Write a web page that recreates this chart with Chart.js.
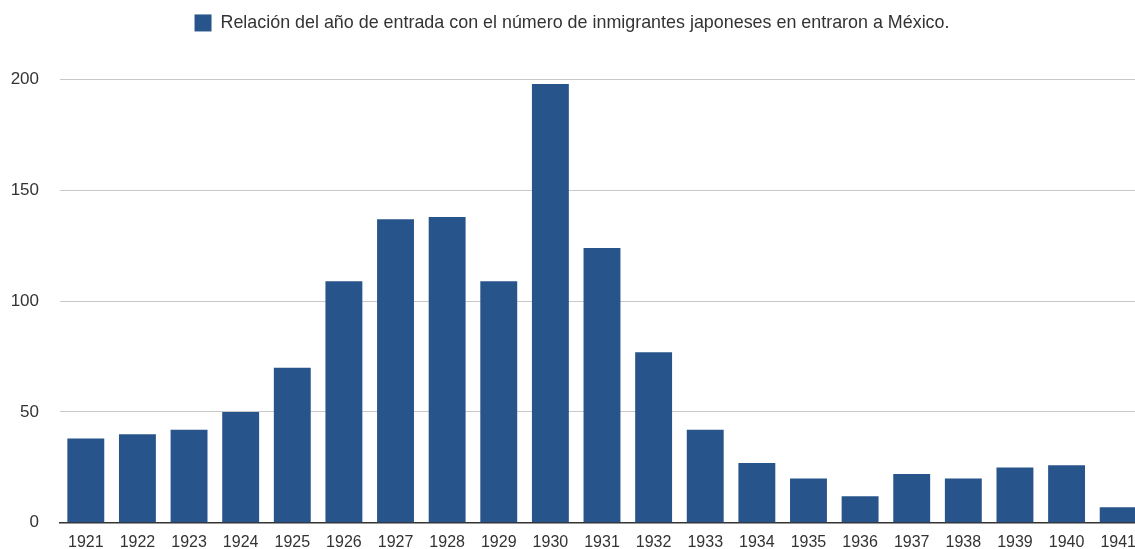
<!DOCTYPE html>
<html>
<head>
<meta charset="utf-8">
<script src="https://cdn.jsdelivr.net/npm/chart.js@4/dist/chart.umd.min.js"></script>
<style>
    html, body { margin: 0; padding: 0; background: #fff; overflow: hidden; }
    #grafica { position: absolute; left: 0; top: 0; }
</style>
</head>
<body>
<canvas id="grafica" width="1160" height="554"></canvas>
<script>
// Inmigrantes japoneses a México por año de entrada
const anios = ["1921", "1922", "1923", "1924", "1925", "1926", "1927", "1928", "1929", "1930",
    "1931", "1932", "1933", "1934", "1935", "1936", "1937", "1938", "1939", "1940", "1941"];
const inmigrantes = [38, 40, 42, 50, 70, 109, 137, 138, 109, 198,
    124, 77, 42, 27, 20, 12, 22, 20, 25, 26, 7];
const yTicks = [0, 50, 100, 150, 200];
const etiqueta = "Relación del año de entrada con el número de inmigrantes japoneses en entraron a México.";

// la imagen original está recortada a la derecha, así que la leyenda se recoloca a mano
const moverLeyenda = {
    id: "moverLeyenda",
    afterLayout(chart) {
        const lg = chart.legend;
        const w = lg.right - lg.left;
        const h = lg.bottom - lg.top;
        lg.left = 572 - w / 2;
        lg.right = 572 + w / 2;
        lg.top = 4;
        lg.bottom = 4 + h;
    }
};

const canvas = document.getElementById("grafica");
new Chart(canvas, {
    type: "bar",
    data: {
        labels: anios,
        datasets: [{
            label: etiqueta,
            data: inmigrantes,
            backgroundColor: "#27548b",
            borderWidth: 0,
            barPercentage: 0.715,
            categoryPercentage: 1.0
        }]
    },
    options: {
        responsive: false,
        animation: false,
        layout: { padding: { top: 41.6, right: 16, left: 0, bottom: 0 } },
        plugins: {
            legend: {
                display: true,
                position: "top",
                labels: {
                    boxWidth: 17,
                    boxHeight: 17,
                    padding: 10,
                    color: "#333",
                    font: { family: "Liberation Sans", size: 17.9 }
                }
            },
            tooltip: { enabled: false }
        },
        scales: {
            x: {
                grid: { display: false },
                border: { display: true, color: "#333", width: 1.5 },
                ticks: {
                    color: "#333",
                    font: { family: "Liberation Sans", size: 16 },
                    maxRotation: 0,
                    autoSkip: false,
                    padding: 2
                },
                afterFit(scale) { scale.height = 27; }
            },
            y: {
                min: 0,
                max: 200,
                afterBuildTicks(scale) { scale.ticks = yTicks.map(v => ({ value: v })); },
                grid: { color: "#c8c8c8", lineWidth: 1, drawTicks: false },
                border: { display: false },
                ticks: {
                    color: "#333",
                    font: { family: "Liberation Sans", size: 17 },
                    padding: 21
                },
                afterFit(scale) { scale.width = 60; }
            }
        }
    },
    plugins: [moverLeyenda]
});
</script>
</body>
</html>
